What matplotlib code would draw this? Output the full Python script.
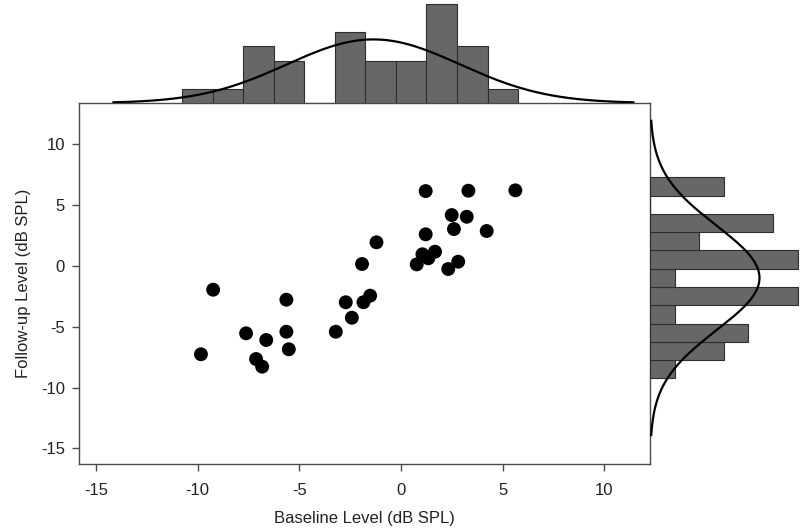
import numpy as np
import matplotlib
matplotlib.use("Agg")
import matplotlib.pyplot as plt

plt.rcParams['font.family'] = ['Liberation Sans', 'DejaVu Sans']
plt.rcParams['axes.unicode_minus'] = False

# scatter data
baseline = [-9.84, -9.24, -7.62, -7.13, -6.83, -6.63, -5.64, -5.64, -5.52, -3.21,
            -2.72, -2.42, -1.92, -1.85, -1.52, -1.21,
            1.21, 3.31, 5.62, 2.49, 3.23, 2.60, 1.21, 4.21, 1.05, 1.67,
            0.77, 1.34, 2.81, 2.32]
followup = [-7.27, -1.97, -5.55, -7.66, -8.29, -6.10, -2.79, -5.42, -6.86, -5.42,
            -3.00, -4.27, 0.14, -3.00, -2.46, 1.92,
            6.13, 6.16, 6.19, 4.16, 4.02, 3.01, 2.58, 2.85, 0.94, 1.15,
            0.11, 0.61, 0.33, -0.27]

# marginal histograms (bin width 1.5)
base_edges = [-10.75, -9.25, -7.75, -6.25, -4.75, -3.25, -1.75, -0.25, 1.25, 2.75, 4.25, 5.75]
base_counts = [1, 1, 4, 3, 0, 5, 3, 3, 7, 4, 1]
follow_edges = [-9.25, -7.75, -6.25, -4.75, -3.25, -1.75, -0.25, 1.25, 2.75, 4.25, 5.75, 7.25]
follow_counts = [1, 3, 4, 1, 6, 1, 6, 2, 5, 0, 3]

# fitted normal curves
n_obs = 32
base_mean, base_sd = -1.36, 4.26
follow_mean, follow_sd = -1.0, 4.3

xticks = [-15, -10, -5, 0, 5, 10]
yticks = [-15, -10, -5, 0, 5, 10]

bar_col = '#676767'
edge_col = '#2e2e2e'
spine_col = '#4a4a4a'

fig = plt.figure(figsize=(8, 5.31), dpi=100)
ax = fig.add_axes([0.0984, 0.1262, 0.7141, 0.6798])
axt = fig.add_axes([0.0984, 0.806, 0.7141, 0.194], sharex=ax)
axr = fig.add_axes([0.8125, 0.1262, 0.1875, 0.6798], sharey=ax)

ax.scatter(baseline, followup, s=100, color='black', edgecolors='none', zorder=3)
ax.set_xlim(-15.85, 12.24)
ax.set_ylim(-16.28, 13.36)
ax.set_xticks(xticks)
ax.set_yticks(yticks)
ax.set_xlabel('Baseline Level (dB SPL)', fontsize=12, color='#222222', labelpad=9)
ax.set_ylabel('Follow-up Level (dB SPL)', fontsize=12, color='#222222', labelpad=7)
ax.tick_params(direction='out', length=5, width=1, color=spine_col,
               labelsize=12, labelcolor='#222222')
ax.tick_params(axis='x', pad=9)
ax.tick_params(axis='y', pad=5)
for sp in ax.spines.values():
    sp.set_color(spine_col)
    sp.set_linewidth(1)

# top histogram
bw = 1.5
axt.bar(base_edges[:-1], base_counts, width=bw, align='edge', color=bar_col,
        edgecolor=edge_col, linewidth=0.8)
xs = np.linspace(base_mean - 3 * base_sd, base_mean + 3 * base_sd, 200)
ys = n_obs * bw * np.exp(-0.5 * ((xs - base_mean) / base_sd) ** 2) / (base_sd * np.sqrt(2 * np.pi))
axt.plot(xs, ys, color='black', linewidth=1.6)
axt.set_ylim(0, 7.28)
axt.axis('off')

# right histogram
axr.barh(follow_edges[:-1], follow_counts, height=bw, align='edge', color=bar_col,
         edgecolor=edge_col, linewidth=0.8)
yy = np.linspace(follow_mean - 3 * follow_sd, follow_mean + 3 * follow_sd, 200)
xx = n_obs * bw * np.exp(-0.5 * ((yy - follow_mean) / follow_sd) ** 2) / (follow_sd * np.sqrt(2 * np.pi))
axr.plot(xx, yy, color='black', linewidth=1.6)
axr.set_xlim(0, 6.1)
axr.axis('off')

fig.savefig('out.png', dpi=100)
